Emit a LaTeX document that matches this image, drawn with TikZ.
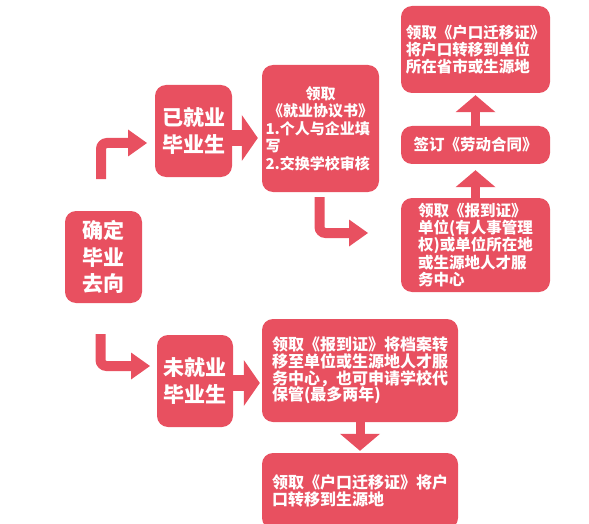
\documentclass[tikz,border=0pt]{standalone}
\usepackage{fontspec}
\setmainfont{Noto Sans CJK SC}
\usetikzlibrary{arrows.meta}
\definecolor{boxred}{RGB}{232,80,96}
\begin{document}
\begin{tikzpicture}[x=1pt,y=-1pt,
  box/.style={fill=boxred, rounded corners=11pt, text=white, inner sep=0pt},
  bigtxt/.style={font=\bfseries\fontsize{21}{26.5}\selectfont, align=center},
  midtxt/.style={font=\bfseries\fontsize{15}{17.5}\selectfont},
  smalltxt/.style={font=\bfseries\fontsize{15.5}{17.2}\selectfont, align=left},
  lowtxt/.style={font=\bfseries\fontsize{16}{16.8}\selectfont, align=left},
  thinarrow/.style={draw=boxred, line width=10pt, rounded corners=6pt,
    -{Triangle[width=27pt,length=19pt,line width=0pt]}},
  fatarrow/.style={draw=boxred, line width=16pt,
    -{Triangle[width=46pt,length=16pt,line width=0pt]}},
  uparrow/.style={draw=boxred, line width=9pt,
    -{Triangle[width=40pt,length=17pt,line width=0pt]}}
]
\useasboundingbox (0,0) rectangle (589,524);

% boxes
\node[box, bigtxt, minimum width=77pt, minimum height=92pt] (qd) at (103.5,257) {确定\\毕业\\去向};
\node[box, bigtxt, minimum width=77pt, minimum height=92pt] (yj) at (193.5,131) {已就业\\毕业生};
\node[box, bigtxt, minimum width=76pt, minimum height=92pt] (wj) at (195,381) {未就业\\毕业生};
\node[box, midtxt, minimum width=117pt, minimum height=127pt, text width=110pt, align=left] (xy) at (320.5,128.5)
  {\centering 领取\\《就业协议书》\par\raggedright 1.个人与企业填\\写\\2.交换学校审核};
\node[box, smalltxt, minimum width=149pt, minimum height=87pt] (t1) at (475.5,49.5)
  {领取《户口迁移证》\\将户口转移到单位\\所在省市或生源地};
\node[box, smalltxt, minimum width=149pt, minimum height=38pt] (t2) at (475.5,145)
  {签订《劳动合同》};
\node[box, smalltxt, minimum width=149pt, minimum height=94pt] (t3) at (475.5,245)
  {领取《报到证》\\单位(有人事管理\\权)或单位所在地\\或生源地人才服\\务中心};
\node[box, lowtxt, minimum width=196pt, minimum height=103pt] (b1) at (360,370.5)
  {领取《报到证》将档案转\\移至单位或生源地人才服\\务中心，也可申请学校代\\保管(最多两年)};
\node[box, lowtxt, minimum width=196pt, minimum height=76pt] (b2) at (360,491)
  {领取《户口迁移证》将户\\口转移到生源地};

% free ends of the bent arrows
\coordinate (ua) at (101,179);
\coordinate (ub) at (147,143);
\coordinate (la) at (100.5,334);
\coordinate (lb) at (150,366);
\coordinate (xa) at (319.5,197);
\coordinate (xb) at (368,233);

% connectors
\draw[thinarrow] (ua) |- (ub);
\draw[thinarrow] (la) |- (lb);
\draw[thinarrow] (xa) |- (xb);
\draw[fatarrow] ([yshift=-7pt]yj.east) -- ([xshift=-4pt,yshift=-9.5pt]xy.west);
\draw[fatarrow] ([yshift=-2pt]wj.east) -- ([xshift=-2pt,yshift=-12.5pt]b1.west);
\draw[uparrow] (t3.north) -- ([yshift=-6pt]t2.south);
\draw[uparrow] (t2.north) -- ([yshift=-2pt]t1.south);
\draw[uparrow] (b1.south) -- ([yshift=2pt]b2.north);
\end{tikzpicture}
\end{document}
